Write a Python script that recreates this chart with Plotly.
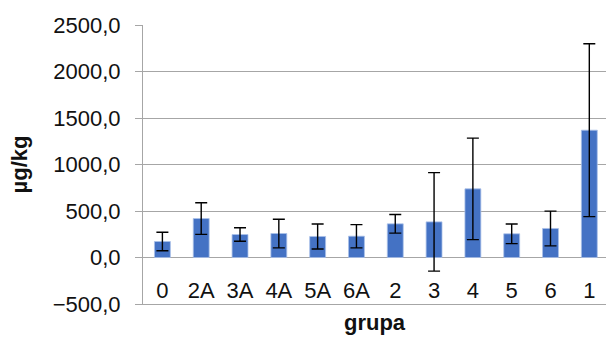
import plotly.graph_objects as go

categories = ["0", "2A", "3A", "4A", "5A", "6A", "2", "3", "4", "5", "6", "1"]
means = [172, 419, 247, 258, 226, 229, 362, 383, 738, 255, 312, 1369]
errors = [100, 170, 73, 154, 135, 125, 100, 530, 546, 106, 187, 930]
y_tick_values = [-500, 0, 500, 1000, 1500, 2000, 2500]

FONT = "Liberation Sans"
GRID = "#A6A6A6"

fig = go.Figure()
fig.add_trace(go.Bar(
    x=categories,
    y=means,
    marker=dict(color="#4472C4", line=dict(color="#A9C0E8", width=0.8)),
    error_y=dict(type="data", array=errors, visible=True,
                 color="black", thickness=1.4, width=6),
    width=0.41,
))

fig.update_layout(
    width=606, height=338,
    margin=dict(l=143, r=0, t=25, b=34),
    paper_bgcolor="white", plot_bgcolor="white",
    separators=",.",
    showlegend=False,
    font=dict(family=FONT, size=21, color="#111111"),
)
fig.update_xaxes(
    type="category",
    range=[-0.5, 11.43],
    ticks="",
    ticklabelstandoff=-33,
    showline=True, linecolor=GRID, linewidth=1,
    showgrid=False,
    tickfont=dict(size=22),
    title=dict(text="<b>grupa</b>", font=dict(size=22), standoff=12),
    automargin=False,
)
fig.update_yaxes(
    range=[-500, 2500],
    tickvals=y_tick_values,
    tickformat=".1f",
    showgrid=True, gridcolor=GRID, gridwidth=1,
    zeroline=True, zerolinecolor=GRID, zerolinewidth=1,
    showline=True, linecolor=GRID, linewidth=1,
    ticks="outside", ticklen=7, tickcolor=GRID,
    ticklabelstandoff=10,
    tickfont=dict(size=22),
    title=dict(text="<b>µg/kg</b>", font=dict(size=22), standoff=18),
    automargin=False,
)

fig.write_html("out.html", config={"displayModeBar": False},
               post_script="document.body.style.margin='0';document.body.style.overflow='hidden';")
